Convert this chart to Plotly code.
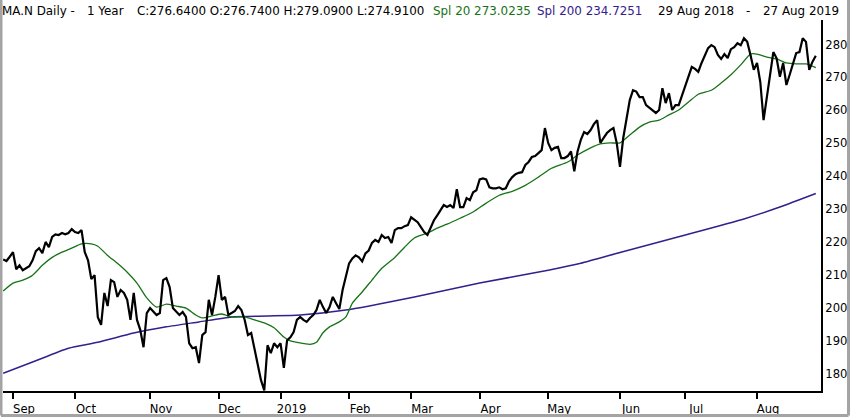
import plotly.graph_objects as go

# daily closes, one per trading day, 29 Aug 2018 .. 27 Aug 2019 (250 sessions)
CLOSE = [
    214.7, 214.2, 215.5, 216.9, 211.7, 212.9, 211.4, 212.0, 212.6, 214.4,
    217.2, 218.1, 216.6, 220.0, 218.4, 221.5, 222.3, 222.1, 222.7, 222.3,
    222.7, 223.9, 223.0, 222.7, 223.6, 216.9, 214.4, 208.7, 209.9, 197.1,
    194.8, 204.5, 200.5, 208.4, 207.8, 203.3, 205.4, 204.5, 202.4, 196.3,
    204.5, 196.3, 193.3, 188.0, 198.4, 199.9, 198.7, 197.8, 198.4, 208.4,
    209.0, 206.3, 199.9, 198.7, 197.8, 198.7, 197.2, 189.2, 187.7, 188.0,
    183.2, 191.7, 192.6, 202.4, 197.8, 203.3, 209.9, 202.4, 203.3, 197.8,
    198.4, 199.0, 200.5, 199.3, 196.3, 191.7, 192.3, 187.7, 183.5, 178.0,
    174.9, 188.6, 186.2, 189.2, 188.0, 189.2, 181.7, 190.1, 191.0, 192.6,
    196.3, 197.2, 196.3, 195.7, 196.9, 197.8, 199.3, 202.4, 200.2, 198.4,
    200.2, 203.3, 201.4, 199.6, 205.4, 209.9, 213.5, 215.0, 215.9, 215.3,
    214.1, 216.5, 217.4, 219.7, 220.6, 220.0, 222.1, 221.2, 221.5, 219.7,
    223.6, 224.2, 224.2, 224.8, 225.1, 227.5, 226.6, 226.0, 224.5, 223.0,
    222.1, 224.5, 226.6, 228.1, 229.7, 231.2, 230.6, 231.2, 230.3, 236.0,
    230.6, 230.6, 233.3, 232.7, 235.1, 235.7, 239.0, 239.3, 239.0, 236.6,
    236.3, 236.3, 236.6, 236.0, 236.3, 238.4, 239.7, 240.6, 241.0, 241.2,
    243.4, 244.3, 245.8, 246.1, 247.0, 247.9, 254.6, 250.1, 247.9, 248.6,
    248.9, 245.5, 245.5, 246.1, 247.5, 241.5, 247.5, 251.0, 253.4, 252.8,
    254.0, 255.8, 257.0, 250.1, 251.6, 253.1, 254.0, 254.6, 250.1, 242.8,
    251.6, 257.9, 263.1, 266.1, 265.7, 264.0, 264.0, 261.6, 260.7, 259.8,
    259.2, 260.1, 266.7, 262.2, 265.2, 260.1, 261.6, 261.6, 264.6, 267.7,
    270.8, 273.2, 272.6, 271.7, 274.4, 276.8, 278.9, 279.8, 279.2, 276.8,
    275.6, 277.1, 275.9, 278.6, 279.2, 280.4, 279.8, 281.9, 280.8, 276.8,
    272.3, 274.4, 268.6, 257.0, 263.7, 271.4, 277.7, 275.8, 270.2, 274.4,
    267.7, 270.8, 273.8, 277.4, 277.7, 281.9, 280.8, 272.3, 274.8, 276.6,
]

# 20 day simple moving average, read at every few sessions
SPL20_DAY = [0, 3, 6, 9, 12, 15, 18, 21, 24, 27, 29, 32, 35, 38, 41, 44, 47, 50,
             53, 56, 59, 61, 64, 67, 70, 74, 77, 80, 83, 86, 88, 90, 94, 96, 98,
             100, 103, 105, 107, 110, 113, 116, 120, 123, 126, 130, 133, 136,
             140, 144, 148, 152, 156, 160, 164, 168, 173, 176, 180, 183, 186,
             189, 192, 195, 198, 201, 204, 207, 210, 213, 217, 220, 223, 226,
             229, 231, 234, 237, 240, 243, 246, 249]
SPL20 = [205.1, 207.5, 208.4, 209.9, 212.9, 215.3, 216.9, 218.1, 219.4, 219.4,
         218.7, 215.9, 213.5, 210.8, 207.5, 203.0, 200.2, 201.1, 200.5, 199.9,
         197.8, 196.9, 197.5, 198.1, 197.2, 197.2, 196.3, 195.4, 193.9, 191.1,
         189.9, 189.5, 188.9, 189.5, 192.4, 194.2, 195.7, 197.2, 201.4, 204.8,
         208.4, 212.0, 215.3, 218.4, 221.2, 222.7, 224.2, 225.4, 227.2, 229.1,
         231.8, 234.2, 235.4, 237.2, 239.7, 242.4, 244.3, 246.4, 248.6, 249.8,
         250.1, 250.1, 252.5, 254.9, 256.4, 257.0, 258.6, 260.1, 262.5, 264.9,
         266.1, 268.3, 270.8, 273.8, 277.1, 277.1, 276.2, 275.6, 274.4, 274.1,
         274.1, 273.0]

# 200 day simple moving average
SPL200_DAY = [0, 9, 20, 29, 40, 50, 60, 70, 81, 91, 105, 126, 146, 167, 177,
              189, 207, 227, 238, 249]
SPL200 = [180.1, 183.5, 187.7, 189.5, 192.3, 194.2, 195.7, 197.2, 197.5, 197.8,
          199.3, 203.3, 207.5, 211.4, 213.5, 216.8, 221.6, 227.0, 230.6, 234.7]

# first session of each month
MONTH_DAY = [3, 22, 45, 66, 85, 106, 125, 146, 167, 189, 209, 231]
MONTH_TEXT = ["Sep", "Oct", "Nov", "Dec", "2019", "Feb", "Mar", "Apr", "May",
              "Jun", "Jul", "Aug"]

PRICE_TICKS = [180, 190, 200, 210, 220, 230, 240, 250, 260, 270, 280]

GREEN = "#167316"
PURPLE = "#33208c"
FONT = "DejaVu Sans"
FONT_SIZE = 11.6
HEAD_SIZE = 11.9

# header pieces: (text, colour, left edge in pixels)
HEADER = [
    ("MA.N Daily -", "black", 2),
    ("1 Year", "black", 87),
    ("C:276.6400 O:276.7400 H:279.0900 L:274.9100", "black", 137),
    ("Spl 20 273.0235", GREEN, 433),
    ("Spl 200 234.7251", PURPLE, 537),
    ("29 Aug 2018", "black", 658),
    ("-", "black", 746),
    ("27 Aug 2019", "black", 763),
]

# plot area in pixels, used to place header and frame
PLOT_LEFT, PLOT_RIGHT, PLOT_TOP, PLOT_BOTTOM = 3, 821, 20, 391


def px_x(x):
    return (x - PLOT_LEFT) / (PLOT_RIGHT - PLOT_LEFT)


def px_y(y):
    return (PLOT_BOTTOM - y) / (PLOT_BOTTOM - PLOT_TOP)


fig = go.Figure()
fig.add_trace(go.Scatter(
    x=SPL200_DAY, y=SPL200, mode="lines",
    line=dict(color=PURPLE, width=1.5, shape="spline", smoothing=0.6),
))
fig.add_trace(go.Scatter(
    x=SPL20_DAY, y=SPL20, mode="lines",
    line=dict(color=GREEN, width=1.3, shape="spline", smoothing=0.6),
))
fig.add_trace(go.Scatter(
    x=list(range(len(CLOSE))), y=CLOSE, mode="lines",
    line=dict(color="black", width=2.2),
))

fig.update_layout(
    width=850,
    height=417,
    autosize=False,
    showlegend=False,
    paper_bgcolor="white",
    plot_bgcolor="white",
    margin=dict(l=PLOT_LEFT, r=850 - PLOT_RIGHT, t=PLOT_TOP, b=417 - PLOT_BOTTOM),
    font=dict(family=FONT, size=FONT_SIZE, color="black"),
    xaxis=dict(
        range=[-0.06, 250.6],
        tickvals=MONTH_DAY,
        ticktext=MONTH_TEXT,
        ticks="outside",
        ticklen=6,
        tickwidth=2,
        tickcolor="black",
        ticklabelshift=11,
        showline=True,
        linecolor="black",
        linewidth=2,
        showgrid=False,
        zeroline=False,
        fixedrange=True,
        automargin=False,
    ),
    yaxis=dict(
        side="right",
        range=[174.7, 287.45],
        tickvals=PRICE_TICKS,
        ticks="",
        showline=True,
        linecolor="black",
        linewidth=2,
        showgrid=False,
        zeroline=False,
        fixedrange=True,
        automargin=False,
    ),
)

for text, color, left in HEADER:
    fig.add_annotation(
        xref="paper", yref="paper", x=px_x(left), y=px_y(11),
        xanchor="left", yanchor="middle", showarrow=False,
        borderpad=0, borderwidth=0,
        text=text, font=dict(family=FONT, size=HEAD_SIZE, color=color),
    )

# grey frame around the picture
frame = dict(color="#a4a4a4", width=3)
fig.add_shape(type="line", xref="paper", yref="paper",
              x0=px_x(1), x1=px_x(1), y0=px_y(-2), y1=px_y(415.5), line=frame)
fig.add_shape(type="line", xref="paper", yref="paper",
              x0=px_x(1), x1=px_x(848.5), y0=px_y(415.5), y1=px_y(415.5), line=frame)
fig.add_shape(type="line", xref="paper", yref="paper",
              x0=px_x(848.5), x1=px_x(848.5), y0=px_y(-2), y1=px_y(415.5), line=frame)

# the page has a default body margin; drop it so the figure sits at the corner
fig.write_html("out.html", config={"displayModeBar": False},
               post_script="document.body.style.margin='0';")
